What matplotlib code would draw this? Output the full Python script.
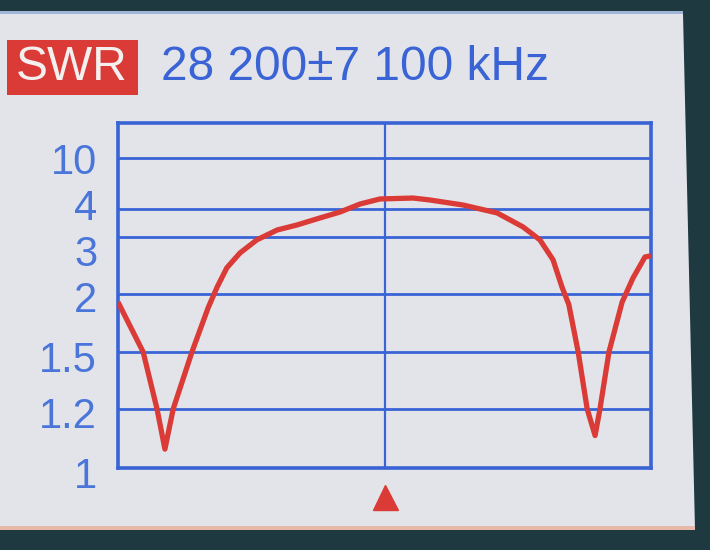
import numpy as np
import matplotlib
matplotlib.use("Agg")
import matplotlib.pyplot as plt
from matplotlib.patches import Polygon, Rectangle
import matplotlib.transforms as mtransforms

# ---- data ----
center_khz = 28200
span_khz = 7100
freq_khz = [21100, 21770, 22140, 22350, 22570, 23070, 23500, 23740, 24000, 24350,
            24800, 25340, 25870, 26480, 27010, 27550, 28080, 28960, 29410, 30290,
            31200, 31890, 32340, 32690, 32930, 33110, 33360, 33600, 33810, 33940,
            34180, 34530, 34820, 35140, 35300]
swr = [1.93, 1.50, 1.20, 1.064, 1.20, 1.50, 1.88, 2.12, 2.46, 2.72,
       2.95, 3.25, 3.43, 3.68, 3.89, 4.59, 5.18, 5.29, 5.06, 4.47,
       3.86, 3.36, 2.95, 2.60, 2.12, 1.91, 1.50, 1.20, 1.11, 1.20,
       1.50, 1.93, 2.28, 2.65, 2.67]
swr_ticks = [1, 1.2, 1.5, 2, 3, 4, 10]
swr_tick_labels = ["1", "1.2", "1.5", "2", "3", "4", "10"]
title_tag = "SWR"
title_text = "28 200\u00b17 100 kHz"

# screen scale: SWR -> vertical position
scale_swr = [1, 1.2, 1.5, 2, 3, 4, 10, 30]
scale_pos = [0, 59, 116, 174, 231, 259, 310, 345]

def fwd(v):
    return np.interp(v, scale_swr, scale_pos)

def inv(p):
    return np.interp(p, scale_pos, scale_swr)

W, H = 710, 550
fig = plt.figure(figsize=(7.1, 5.5), dpi=100)
fig.patch.set_facecolor("#1e3a40")

def fx(x):
    return x / W

def fy(y):
    return 1 - y / H

# screen background
screen = Polygon([(fx(0), fy(14)), (fx(683), fy(14)), (fx(695), fy(530)), (fx(0), fy(530))],
                 closed=True, transform=fig.transFigure, facecolor="#e3e4ea",
                 edgecolor="none", zorder=-5)
fig.patches.append(screen)
fig.patches.append(Rectangle((fx(0), fy(14)), fx(683), 3 / H, transform=fig.transFigure,
                             facecolor="#9fb6d6", edgecolor="none", zorder=-4))
fig.patches.append(Rectangle((fx(0), fy(530)), fx(695), 4 / H, transform=fig.transFigure,
                             facecolor="#e8b8a8", edgecolor="none", zorder=-4))

blue = "#3a63d6"
red = "#db3b36"

ax = fig.add_axes([fx(118), fy(468), fx(651) - fx(118), fy(123) - fy(468)])
ax.set_facecolor("none")
ax.set_yscale("function", functions=(fwd, inv))
ax.set_ylim(1, 30)
ax.set_xlim(center_khz - span_khz, center_khz + span_khz)

for v in swr_ticks[1:]:
    ax.axhline(v, color=blue, lw=2.0, zorder=1)
ax.axvline(center_khz, color=blue, lw=1.6, zorder=1)

for s in ax.spines.values():
    s.set_color(blue)
    s.set_linewidth(2.6)

ax.plot(freq_khz, swr, color=red, lw=3.8, solid_joinstyle="round",
        solid_capstyle="butt", zorder=3, clip_on=True)

ax.set_xticks([])
ax.set_yticks(swr_ticks)
ax.set_yticklabels(swr_tick_labels)
ax.yaxis.set_minor_locator(matplotlib.ticker.NullLocator())
ax.tick_params(axis="y", which="both", length=0, pad=15, labelcolor="#4a76da",
               labelsize=30)
# small per-label vertical shifts (pixels, + = down) as seen on the screen
label_shift_px = {"1": 4, "1.2": 4, "1.5": 5, "2": 3, "3": 13, "4": -4, "10": 0}
for lab, txt in zip(ax.get_yticklabels(), swr_tick_labels):
    lab.set_family(["Liberation Sans Narrow", "Liberation Sans", "DejaVu Sans"])
    lab.set_transform(lab.get_transform() +
                      mtransforms.ScaledTranslation(0, -label_shift_px[txt] / 100,
                                                    fig.dpi_scale_trans))

# center marker triangle below the axis
trans = mtransforms.blended_transform_factory(ax.transData, ax.transAxes)
ax.plot([center_khz], [-(497 - 468) / (468 - 123)], marker="^", ms=18, color=red,
        transform=trans, clip_on=False, linestyle="none")

# title
fig.patches.append(Rectangle((fx(7), fy(95)), fx(138) - fx(7), (95 - 40) / H,
                             transform=fig.transFigure, facecolor=red, edgecolor="none",
                             zorder=1))
fig.text(fx(72), fy(68), title_tag, color="#f4f0f0", fontsize=34.5,
         family=["Liberation Sans", "DejaVu Sans"], ha="center", va="center", zorder=2)
fig.text(fx(161), fy(68), title_text, color=blue, fontsize=34.5,
         family=["Liberation Sans", "DejaVu Sans"], ha="left", va="center", zorder=2)

fig.savefig("out.png", dpi=100, facecolor=fig.get_facecolor())
